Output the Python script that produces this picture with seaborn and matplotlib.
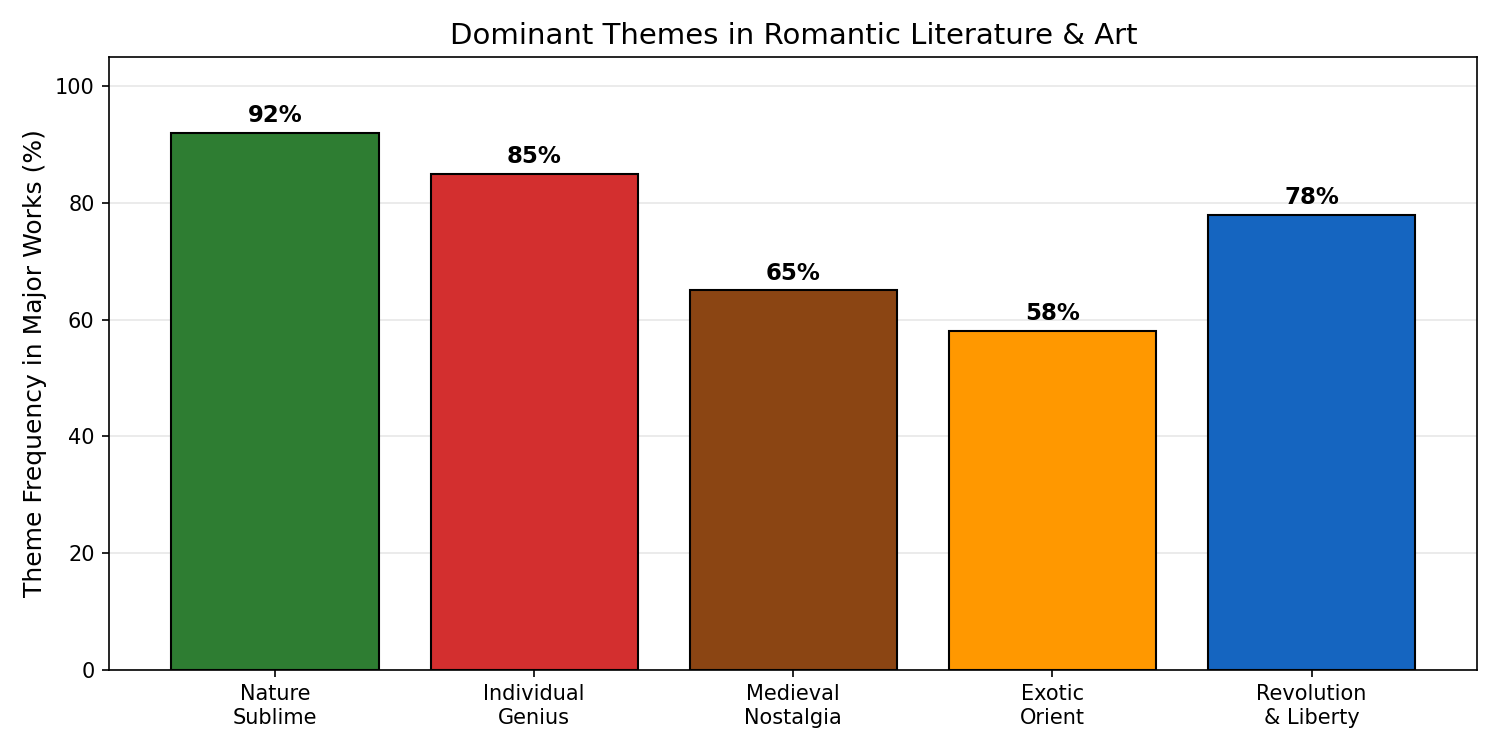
import pandas as pd
import matplotlib
matplotlib.use('Agg')
import matplotlib.pyplot as plt
import seaborn as sns

# Data
themes = ['Nature\nSublime', 'Individual\nGenius', 'Medieval\nNostalgia', 'Exotic\nOrient', 'Revolution\n& Liberty']
frequency = [92, 85, 65, 58, 78]
colors = ['#2e7d32', '#d32f2f', '#8b4513', '#ff9800', '#1565c0']

df = pd.DataFrame({'theme': themes, 'frequency': frequency})

fig, ax = plt.subplots(figsize=(10, 5), dpi=150)
sns.barplot(data=df, x='theme', y='frequency', hue='theme', palette=colors,
            legend=False, edgecolor='black', linewidth=1, saturation=1, ax=ax, zorder=3)

for patch, val in zip(ax.patches, frequency):
    ax.text(patch.get_x() + patch.get_width() / 2, val + 1, f'{val}%',
            ha='center', va='bottom', fontsize=11, fontweight='bold', zorder=4)

ax.set_ylim(0, 105)
ax.set_xlim(-0.64, 4.64)
ax.set_title('Dominant Themes in Romantic Literature & Art', fontsize=14)
ax.set_ylabel('Theme Frequency in Major Works (%)', fontsize=12)
ax.set_xlabel('')
ax.yaxis.grid(True, alpha=0.3, zorder=0)
ax.set_axisbelow(True)

plt.tight_layout()
plt.savefig('out.png')
